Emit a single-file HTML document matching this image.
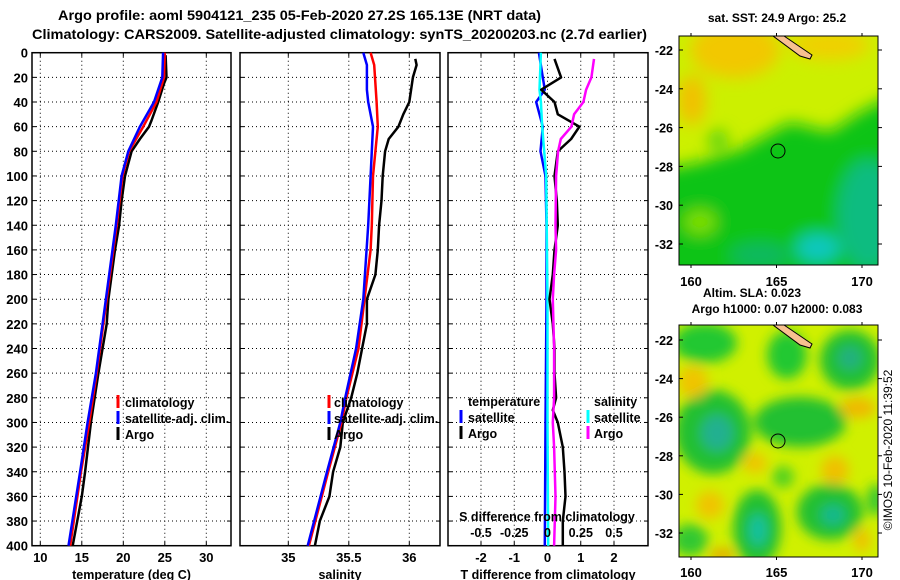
<!DOCTYPE html>
<html><head><meta charset="utf-8"><style>
html,body{margin:0;padding:0;background:#fff;}
svg{display:block;font-family:"Liberation Sans",Arial,sans-serif;font-weight:bold;}
</style></head><body>
<svg id="fig" width="900" height="580" viewBox="0 0 900 580" xmlns="http://www.w3.org/2000/svg">
<defs>
<filter id="blur6" x="-50%" y="-50%" width="200%" height="200%"><feGaussianBlur stdDeviation="6"/></filter>
<filter id="blur10" x="-50%" y="-50%" width="200%" height="200%"><feGaussianBlur stdDeviation="8"/></filter>
<clipPath id="clipTop"><rect x="679" y="36" width="199" height="229"/></clipPath>
<clipPath id="clipBot"><rect x="679" y="325" width="199" height="232"/></clipPath>
</defs>
<text x="58" y="20" font-size="14" textLength="483" lengthAdjust="spacingAndGlyphs">Argo profile: aoml 5904121_235 05-Feb-2020 27.2S 165.13E (NRT data)</text>
<text x="32" y="39" font-size="14" textLength="615" lengthAdjust="spacingAndGlyphs">Climatology: CARS2009. Satellite-adjusted climatology: synTS_20200203.nc (2.7d earlier)</text>

<!-- top map -->
<g>
<text x="777" y="22" font-size="12" text-anchor="middle">sat. SST: 24.9 Argo: 25.2</text>
<g clip-path="url(#clipTop)">
<rect x="679" y="36" width="199" height="229" fill="#ccf000"/>
<g filter="url(#blur10)">
<ellipse cx="735" cy="50" rx="45" ry="28" fill="#f2c800"/>
<ellipse cx="692" cy="100" rx="14" ry="25" fill="#f2c000"/>
<ellipse cx="830" cy="45" rx="40" ry="15" fill="#f0d000"/>
<polygon points="660,170 700,162 740,150 790,122 830,132 860,112 900,92 900,290 660,290" fill="#10c418"/>
<ellipse cx="700" cy="222" rx="16" ry="12" fill="#80e000"/>
<ellipse cx="868" cy="215" rx="30" ry="55" fill="#10bc80"/>
<ellipse cx="818" cy="248" rx="22" ry="14" fill="#10c8c0"/>
<ellipse cx="718" cy="140" rx="10" ry="10" fill="#50d010"/>
<ellipse cx="760" cy="255" rx="30" ry="12" fill="#10b860"/>
</g>
<polygon points="773,36 784,36 812,55 810,59 800,56" fill="#f8c090" stroke="#000" stroke-width="1"/>
</g>
<rect x="679" y="36" width="199" height="229" fill="none" stroke="#000" stroke-width="1"/>
<circle cx="778" cy="151" r="7" fill="none" stroke="#000" stroke-width="1"/>
<g id="topMapAxes"></g>
</g>
<text x="752" y="297" font-size="12" text-anchor="middle">Altim. SLA: 0.023</text>
<text x="777" y="313" font-size="12" text-anchor="middle">Argo h1000: 0.07 h2000: 0.083</text>

<!-- bottom map -->
<g>
<g clip-path="url(#clipBot)">
<rect x="679" y="325" width="199" height="232" fill="#d0f000"/>
<g filter="url(#blur6)">
<ellipse cx="705" cy="343" rx="32" ry="20" fill="#20c830"/>
<ellipse cx="787" cy="355" rx="20" ry="24" fill="#20c830"/>
<ellipse cx="850" cy="360" rx="30" ry="30" fill="#20c030"/>
<ellipse cx="713" cy="432" rx="38" ry="42" fill="#20c030"/>
<ellipse cx="800" cy="422" rx="46" ry="25" fill="#20c030"/>
<ellipse cx="757" cy="528" rx="24" ry="38" fill="#20c030"/>
<ellipse cx="830" cy="512" rx="33" ry="28" fill="#20c030"/>
<ellipse cx="690" cy="540" rx="18" ry="16" fill="#30c830"/>
<ellipse cx="783" cy="477" rx="11" ry="11" fill="#50d020"/>
<ellipse cx="876" cy="500" rx="9" ry="16" fill="#30c830"/>
<ellipse cx="850" cy="358" rx="12" ry="12" fill="#20b080"/>
<ellipse cx="717" cy="433" rx="16" ry="18" fill="#20b090"/>
<ellipse cx="758" cy="530" rx="9" ry="16" fill="#18c0a0"/>
<ellipse cx="833" cy="515" rx="12" ry="10" fill="#18b890"/>
<ellipse cx="693" cy="382" rx="15" ry="16" fill="#f0c400"/>
<ellipse cx="858" cy="408" rx="18" ry="10" fill="#f0b800"/>
<ellipse cx="755" cy="463" rx="12" ry="10" fill="#f0c400"/>
<ellipse cx="835" cy="470" rx="14" ry="14" fill="#f0c000"/>
<ellipse cx="710" cy="505" rx="14" ry="14" fill="#f0c400"/>
<ellipse cx="722" cy="555" rx="12" ry="6" fill="#e8a000"/>
<ellipse cx="862" cy="540" rx="8" ry="12" fill="#f0c000"/>
</g>
<polygon points="773,325 784,325 812,344 810,348 800,345" fill="#f8c090" stroke="#000" stroke-width="1"/>
</g>
<rect x="679" y="325" width="199" height="232" fill="none" stroke="#000" stroke-width="1"/>
<circle cx="778" cy="441" r="7" fill="none" stroke="#000" stroke-width="1"/>
<g id="botMapAxes"></g>
</g>
<text transform="translate(892,450) rotate(-90)" font-size="12" font-weight="normal" text-anchor="middle">©IMOS 10-Feb-2020 11:39:52</text>

<g id="p1"></g><g id="p2"></g><g id="p3"></g>
</svg>
<script>
// ---- data ----
const tickDepths = [0,20,40,60,80,100,120,140,160,180,200,220,240,260,280,300,320,340,360,380,400];
const tempTicks = [10,15,20,25,30];
const salTicks = [35,35.5,36];
const salTickLabels = ["35","35.5","36"];
const tdiffTicks = [-2,-1,0,1,2];
const sdiffTicks = [-0.5,-0.25,0,0.25,0.5];
const sdiffTickLabels = ["-0.5","-0.25","0","0.25","0.5"];
const latTicks = [-22,-24,-26,-28,-30,-32];
const lonTicks = [160,165,170];

const argoDepth = [2,20,25,40,55,60,70,80,90,100,120,140,160,180,200,220,260,300,340,360,400];
const argoTemp  = [25.1,25.2,24.9,24.2,23.4,23.1,22.0,21.0,20.6,20.2,19.8,19.5,19.0,18.6,18.2,18.0,17.0,16.1,15.4,15.0,13.9];
const climDepth = [0,20,40,60,80,100,140,200,260,300,340,400];
const climTemp  = [25.0,24.9,24.0,22.4,20.7,19.9,19.2,18.0,16.8,15.9,14.9,13.6];
const satTemp   = [24.8,24.7,23.7,22.0,20.6,19.8,19.1,17.9,16.7,15.7,14.8,13.4];

const argoSalDepth = [5,10,20,40,50,60,70,80,100,120,140,160,180,200,220,240,260,280,300,320,340,360,380,400];
const argoSal = [36.05,36.06,36.03,36.0,35.95,35.91,35.83,35.80,35.78,35.77,35.75,35.74,35.72,35.65,35.65,35.61,35.57,35.52,35.45,35.43,35.37,35.34,35.26,35.22];
const climSalDepth = [0,10,40,60,80,100,140,160,200,240,280,300,340,400];
const climSal = [35.68,35.71,35.73,35.74,35.72,35.70,35.69,35.68,35.63,35.58,35.48,35.44,35.33,35.17];
const satSalDepth = [0,10,30,40,60,80,100,140,200,240,280,300,340,400];
const satSal = [35.62,35.65,35.65,35.66,35.70,35.69,35.68,35.66,35.62,35.56,35.47,35.43,35.32,35.16];

const satTdiffDepth = [0,20,30,40,50,60,80,100,140,200,300,400];
const satTdiff = [-0.26,-0.14,-0.08,-0.34,-0.24,-0.14,-0.21,-0.06,-0.03,-0.03,-0.06,-0.08];
const argoTdiffDepth = [5,20,30,40,50,60,70,80,100,120,140,160,180,200,220,240,260,280,290,300,320,340,360,380,400];
const argoTdiff = [0.21,0.41,-0.19,0.21,0.31,0.96,0.71,0.31,0.21,0.28,0.31,0.21,0.16,0.06,0.16,0.21,0.21,0.26,0.16,0.31,0.46,0.51,0.54,0.46,0.46];
const satSdiffDepth = [0,30,40,60,100,200,300,400];
const satSdiff = [-0.05,-0.06,-0.05,-0.04,-0.01,0,0,0.005];
const argoSdiffDepth = [5,20,30,40,50,60,70,80,100,140,160,180,200,240,280,300,320,360,400];
const argoSdiff = [0.35,0.33,0.29,0.27,0.20,0.18,0.10,0.08,0.065,0.06,0.065,0.05,0.04,0.05,0.05,0.04,0.05,0.06,0.05];

// ---- helpers ----
const NS="http://www.w3.org/2000/svg";
function mk(parent,tag,attrs,txt){const e=document.createElementNS(NS,tag);for(const k in attrs)e.setAttribute(k,attrs[k]);if(txt!==undefined)e.textContent=txt;parent.appendChild(e);return e;}
const Y0=52.7,Y1=545.7;
const yScale=d=>Y0+(d/400)*(Y1-Y0);
function lin(d0,d1,r0,r1){return v=>r0+(v-d0)/(d1-d0)*(r1-r0);}

function panel(g,x0,x1,xs,xt,xlabels,xtitle,leftLabels){
  mk(g,'rect',{x:x0,y:Y0,width:x1-x0,height:Y1-Y0,fill:'none',stroke:'#000','stroke-width':1.5});
  tickDepths.forEach(d=>{
    const y=yScale(d);
    if(d>0&&d<400){const l=mk(g,'line',{x1:x0,x2:x1,y1:y,y2:y,stroke:'#000','stroke-width':1,'stroke-dasharray':'1,3'});
      }
    mk(g,'line',{x1:x0,x2:x0+4,y1:y,y2:y,stroke:'#000','stroke-width':1});
    mk(g,'line',{x1:x1-4,x2:x1,y1:y,y2:y,stroke:'#000','stroke-width':1});
    if(leftLabels){const t=mk(g,'text',{x:28,y:y+5,'font-size':13,'text-anchor':'end'},String(d));
      }
  });
  xt.forEach((v,i)=>{
    const x=xs(v);
    const l=mk(g,'line',{x1:x,x2:x,y1:Y0,y2:Y1,stroke:'#000','stroke-width':1,'stroke-dasharray':'1,3'});
    
    mk(g,'line',{x1:x,x2:x,y1:Y1-4,y2:Y1,stroke:'#000','stroke-width':1});
    mk(g,'line',{x1:x,x2:x,y1:Y0,y2:Y0+4,stroke:'#000','stroke-width':1});
    const t=mk(g,'text',{x:x,y:562,'font-size':13,'text-anchor':'middle'},xlabels[i]);
    
  });
  const tt=mk(g,'text',{x:(x0+x1)/2,y:579,'font-size':12.5,'text-anchor':'middle'},xtitle);
  
}
function series(g,xs,vals,depths,color,name){
  const pts=vals.map((v,i)=>xs(v).toFixed(1)+','+yScale(depths[i]).toFixed(1)).join(' ');
  const p=mk(g,'polyline',{points:pts,fill:'none',stroke:color,'stroke-width':2.5,'stroke-linejoin':'round'});
  
}
function legendEntry(g,xm,xt,y,color,label,name){
  const e=mk(g,'g',{});
  
  mk(e,'rect',{x:xm-1.5,y:y-9,width:3,height:13,fill:color});
  mk(e,'text',{x:xt,y:y+3,'font-size':12.5},label);
}

// panel 1: temperature
const p1=document.getElementById('p1');

const xT=lin(10,30,40.3,206.3);
panel(p1,32,231,xT,tempTicks,tempTicks.map(String),'temperature (deg C)',true);
series(p1,xT,argoTemp,argoDepth,'#000','argo-temperature-line');
series(p1,xT,climTemp,climDepth,'#f00','climatology-temperature-line');
series(p1,xT,satTemp,climDepth,'#00f','satellite-temperature-line');
legendEntry(p1,118,125,404,'#f00','climatology','legend-climatology');
legendEntry(p1,118,125,420,'#00f','satellite-adj. clim.','legend-satellite-adj');
legendEntry(p1,118,125,436,'#000','Argo','legend-argo');

// panel 2: salinity
const p2=document.getElementById('p2');

const xS=lin(35,36,288.3,409.3);
panel(p2,240,440,xS,salTicks,salTickLabels,'salinity',false);
series(p2,xS,argoSal,argoSalDepth,'#000','argo-salinity-line');
series(p2,xS,climSal,climSalDepth,'#f00','climatology-salinity-line');
series(p2,xS,satSal,satSalDepth,'#00f','satellite-salinity-line');
legendEntry(p2,329,334,404,'#f00','climatology','legend-climatology-sal');
legendEntry(p2,329,334,420,'#00f','satellite-adj. clim.','legend-satellite-adj-sal');
legendEntry(p2,329,334,436,'#000','Argo','legend-argo-sal');

// panel 3: differences
const p3=document.getElementById('p3');

const xD=lin(-2,2,481,614);
const xSD=v=>xD(v*4);
panel(p3,448,648,xD,tdiffTicks,tdiffTicks.map(String),'T difference from climatology',false);
series(p3,xD,satTdiff,satTdiffDepth,'#00f','satellite-temp-diff-line');
series(p3,xSD,satSdiff,satSdiffDepth,'#0ff','satellite-sal-diff-line');
series(p3,xD,argoTdiff,argoTdiffDepth,'#000','argo-temp-diff-line');
series(p3,xSD,argoSdiff,argoSdiffDepth,'#f0f','argo-sal-diff-line');
const lt=mk(p3,'text',{x:468,y:406,'font-size':12.5},'temperature');

const ls=mk(p3,'text',{x:594,y:406,'font-size':12.5},'salinity');

legendEntry(p3,461,468,419,'#00f','satellite','legend-temp-satellite');
legendEntry(p3,461,468,435,'#000','Argo','legend-temp-argo');
legendEntry(p3,588,594,419,'#0ff','satellite','legend-sal-satellite');
legendEntry(p3,588,594,435,'#f0f','Argo','legend-sal-argo');
const sdt=mk(p3,'text',{x:547,y:521,'font-size':12.5,'text-anchor':'middle'},'S difference from climatology');

sdiffTicks.forEach((v,i)=>{
  const t=mk(p3,'text',{x:xSD(v),y:537,'font-size':12.5,'text-anchor':'middle'},sdiffTickLabels[i]);
  
});

// map axes
function mapAxes(gid,top,bottom,latY0,latY1,lonLabelY){
  const g=document.getElementById(gid);
  const ly=lin(-22,-32,latY0,latY1);
  const lx=lin(160,170,691,862);
  latTicks.forEach(v=>{
    const y=ly(v);
    mk(g,'line',{x1:679,x2:683,y1:y,y2:y,stroke:'#000'});
    mk(g,'line',{x1:878,x2:882,y1:y,y2:y,stroke:'#000'});
    const t=mk(g,'text',{x:673,y:y+5,'font-size':12.5,'text-anchor':'end'},String(v));
    
  });
  lonTicks.forEach(v=>{
    const x=lx(v);
    mk(g,'line',{x1:x,x2:x,y1:top-3,y2:top,stroke:'#000'});
    mk(g,'line',{x1:x,x2:x,y1:bottom,y2:bottom+3,stroke:'#000'});
    const t=mk(g,'text',{x:x,y:lonLabelY,'font-size':13,'text-anchor':'middle'},String(v));
    
  });
}
mapAxes('topMapAxes',36,265,50,244,286);
mapAxes('botMapAxes',325,557,340,533,577);
</script>
</body></html>
